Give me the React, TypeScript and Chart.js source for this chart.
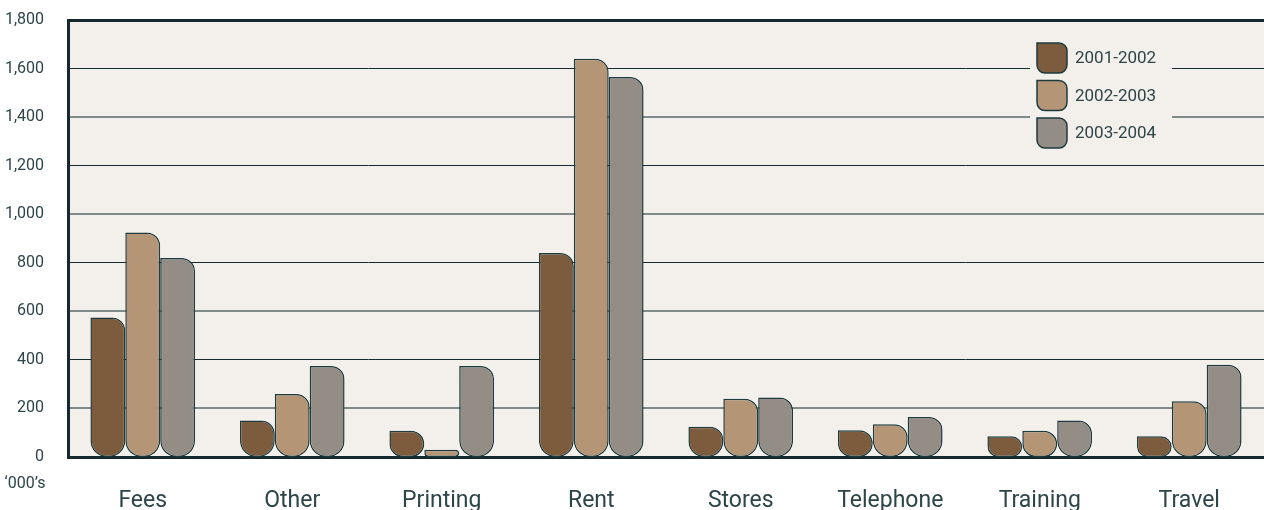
import React, { useEffect, useRef } from 'react';
import { Chart, registerables } from 'chart.js';

Chart.register(...registerables);

const categories = ['Fees', 'Other', 'Printing', 'Rent', 'Stores', 'Telephone', 'Training', 'Travel'];
const seriesLabels = ['2001-2002', '2002-2003', '2003-2004'];
const values2001 = [575, 150, 108, 840, 125, 110, 85, 85];
const values2002 = [925, 260, 30, 1640, 240, 135, 108, 230];
const values2003 = [820, 375, 375, 1565, 245, 165, 150, 380];
const yTickValues = [0, 200, 400, 600, 800, 1000, 1200, 1400, 1600, 1800];
const unitLabel = '‘000’s';

const seriesColors = ['#7d5c3e', '#b49677', '#948d85'];
const edgeColor = '#1d3a3f';
const textColor = '#2d4449';
const plotBg = '#f3f0eb';
const darkGrid = '#142a2e';
const grayGrid = '#7f8b88';
const FONT = "Roboto, 'Liberation Sans', sans-serif";

const bgPlugin = {
  id: 'plotBg',
  beforeDraw(chart: any) {
    const { ctx, chartArea } = chart;
    ctx.save();
    ctx.fillStyle = plotBg;
    ctx.fillRect(chartArea.left, chartArea.top, chartArea.right - chartArea.left, chartArea.bottom - chartArea.top);
    ctx.restore();
  },
};

const extrasPlugin = {
  id: 'extras',
  afterDraw(chart: any) {
    const { ctx, chartArea } = chart;
    ctx.save();
    // legend box
    const lx = chartArea.right - 234;
    const ly = chartArea.top + 20;
    ctx.fillStyle = plotBg;
    ctx.fillRect(lx, ly, 142, 112);
    seriesLabels.forEach((label, i) => {
      const sx = lx + 7;
      const sy = ly + 3 + i * 37.5;
      ctx.beginPath();
      ctx.roundRect(sx, sy, 30, 30, [0, 8, 8, 8]);
      ctx.fillStyle = seriesColors[i];
      ctx.fill();
      ctx.lineWidth = 1.5;
      ctx.strokeStyle = edgeColor;
      ctx.stroke();
      ctx.fillStyle = textColor;
      ctx.font = `17px ${FONT}`;
      ctx.textAlign = 'left';
      ctx.textBaseline = 'middle';
      ctx.fillText(label, sx + 38, sy + 16);
    });
    // unit label
    ctx.fillStyle = textColor;
    ctx.font = `16px ${FONT}`;
    ctx.textAlign = 'center';
    ctx.textBaseline = 'middle';
    ctx.fillText(unitLabel, 25, chartArea.bottom + 27);
    ctx.restore();
  },
};

export default function App() {
  const canvasRef = useRef<HTMLCanvasElement | null>(null);

  useEffect(() => {
    const canvas = canvasRef.current;
    if (!canvas) return;
    const barStyle = {
      borderColor: edgeColor,
      borderWidth: 1.5,
      borderSkipped: false as const,
      borderRadius: { topLeft: 0, topRight: 13, bottomLeft: 16, bottomRight: 16 },
      categoryPercentage: 0.7,
      barPercentage: 1.0,
    };
    const chart = new Chart(canvas, {
      type: 'bar',
      data: {
        labels: categories,
        datasets: [
          { label: seriesLabels[0], data: values2001, backgroundColor: seriesColors[0], ...barStyle },
          { label: seriesLabels[1], data: values2002, backgroundColor: seriesColors[1], ...barStyle },
          { label: seriesLabels[2], data: values2003, backgroundColor: seriesColors[2], ...barStyle },
        ],
      },
      options: {
        animation: false,
        responsive: false,
        maintainAspectRatio: false,
        events: [],
        layout: { padding: { top: 20, right: 0, left: 0, bottom: 0 } },
        plugins: {
          legend: { display: false },
          tooltip: { enabled: false },
          title: { display: false },
        },
        scales: {
          x: {
            grid: { display: false },
            border: { display: true, color: darkGrid, width: 3 },
            ticks: {
              color: textColor,
              font: { family: FONT, size: 23 },
              padding: 22,
              maxRotation: 0,
            },
            afterFit(scale: any) {
              scale.height = 53;
              scale.paddingLeft = 0;
              scale.paddingRight = 0;
              scale.paddingTop = 0;
              scale.paddingBottom = 0;
            },
          },
          y: {
            min: 0,
            max: 1800,
            afterBuildTicks(scale: any) {
              scale.ticks = yTickValues.map((v) => ({ value: v }));
            },
            border: { display: true, color: darkGrid, width: 3 },
            grid: {
              drawTicks: false,
              color: (c: any) => {
                const v = c.tick ? c.tick.value : 0;
                if (v === 1800) return darkGrid;
                return (v / 200) % 2 === 0 ? darkGrid : grayGrid;
              },
              lineWidth: (c: any) => {
                const v = c.tick ? c.tick.value : 0;
                if (v === 0) return 0;
                if (v === 1800) return 3;
                return (v / 200) % 2 === 0 ? 1 : 2;
              },
            },
            ticks: {
              color: textColor,
              font: { family: FONT, size: 16 },
              padding: 24,
              callback: (v: any) => Number(v).toLocaleString('en-US'),
            },
            afterFit(scale: any) {
              scale.width = 68;
              scale.paddingLeft = 0;
              scale.paddingRight = 0;
              scale.paddingTop = 0;
              scale.paddingBottom = 0;
            },
          },
        },
      },
      plugins: [bgPlugin, extrasPlugin],
    });
    return () => chart.destroy();
  }, []);

  return (
    <div style={{ position: 'absolute', left: 0, top: 0, width: 1264, height: 510, background: '#ffffff' }}>
      <canvas ref={canvasRef} width={1264} height={510} style={{ width: 1264, height: 510 }} />
    </div>
  );
}
